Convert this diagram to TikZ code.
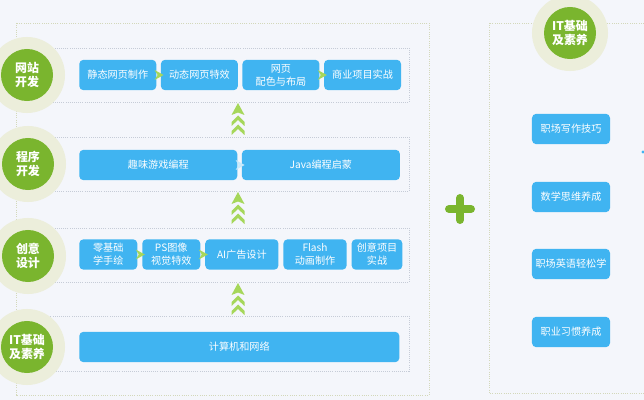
\documentclass[tikz,border=0pt]{standalone}
\usepackage{fontspec}
\setmainfont{Noto Sans CJK SC}
\usepackage{tikz}
\usetikzlibrary{calc}
\usetikzlibrary{positioning}

\definecolor{bgc}{HTML}{F4F6FB}
\definecolor{boxblue}{HTML}{40B4F1}
\definecolor{leafgreen}{HTML}{7AB52E}
\definecolor{halo}{HTML}{ECEEDB}
\definecolor{arrowgreen}{HTML}{A6D75A}
\definecolor{framegray}{HTML}{C6CCD7}
\definecolor{frameolive}{HTML}{D3D8BA}

\tikzset{
  box/.style={fill=boxblue, rounded corners=3pt, text=white, align=center, inner sep=0pt,
    minimum height=0.76cm, font=\fontsize{7.2}{9.2}\selectfont},
  badge/.style={circle, fill=leafgreen, text=white, align=center, inner sep=0pt,
    minimum size=1.3cm, font=\fontsize{8.5}{9.5}\selectfont\bfseries},
  rowframe/.style={framegray, densely dotted, line width=0.5pt},
  outerframe/.style={frameolive, densely dotted, line width=0.6pt}
}

\newcommand\stepmark[2][arrowgreen]{%
  \begin{scope}[shift={(#2)}]
    \fill[#1] (-4,-5)--(5,0)--(-4,5)--(-1,0)--cycle;
  \end{scope}}

\newcommand\climbarrow[2]{%
  \begin{scope}[shift={(#1,#2)}]
    \fill[arrowgreen] (0,0)--(6.5,12)--(0,9.5)--(-6.5,12)--cycle;
    \fill[arrowgreen] (0,12.5)--(6.5,19)--(6.5,23)--(0,17)--(-6.5,23)--(-6.5,19)--cycle;
    \fill[arrowgreen] (0,21.5)--(6.5,28)--(6.5,32)--(0,26)--(-6.5,32)--(-6.5,28)--cycle;
  \end{scope}}

\begin{document}
\begin{tikzpicture}[x=0.025cm,y=-0.025cm]

\useasboundingbox (0,0) rectangle (644,400);
\fill[bgc] (0,0) rectangle (644,400);
\clip (0,0) rectangle (644,400);

% frames
\draw[outerframe] (16,23) rectangle (429,395);
\draw[outerframe] (489,23) rectangle (660,393);

\draw[rowframe] (50,48) rectangle (409,102);
\draw[rowframe] (50,137) rectangle (409,191);
\draw[rowframe] (50,228) rectangle (409,282);
\draw[rowframe] (50,316) rectangle (409,371);

% row 1
\node[box, minimum width=1.925cm, anchor=west] (web1) at (79,75) {静态网页制作};
\node[box, minimum width=1.925cm, right=0.1cm of web1] (web2) {动态网页特效};
\node[box, minimum width=1.925cm, right=0.1cm of web2] (web3) {网页\\配色与布局};
\node[box, minimum width=1.925cm, right=0.1cm of web3] (web4) {商业项目实战};
\stepmark{$(web1.east)!0.5!(web2.west)$}
\stepmark{$(web3.east)!0.5!(web4.west)$}

% row 2
\node[box, minimum width=3.95cm, anchor=west] (prog1) at (79,165) {趣味游戏编程};
\node[box, minimum width=3.95cm, right=0.1cm of prog1] (prog2) {Java编程启蒙};
\stepmark[white!70!boxblue]{$(prog1.east)!0.5!(prog2.west)$}

% row 3
\node[box, minimum width=1.45cm, anchor=west] (art1) at (79,254.5) {零基础\\学手绘};
\node[box, minimum width=1.45cm, right=0.11cm of art1] (art2) {PS图像\\视觉特效};
\node[box, minimum width=1.83cm, right=0.11cm of art2] (art3) {AI广告设计};
\node[box, minimum width=1.58cm, right=0.11cm of art3] (art4) {Flash\\动画制作};
\node[box, minimum width=1.27cm, right=0.11cm of art4] (art5) {创意项目\\实战};
\stepmark{$(art1.east)!0.5!(art2.west)$}
\stepmark{$(art2.east)!0.5!(art3.west)$}

% row 4
\node[box, minimum width=8cm, anchor=west] (base1) at (79,347) {计算机和网络};

\climbarrow{238}{103}
\climbarrow{238}{192}
\climbarrow{238}{283}

% badges
\fill[halo] (27,75) circle (0.95cm);
\fill[halo] (28,164) circle (0.95cm);
\fill[halo] (28,256) circle (0.95cm);
\fill[halo] (27,347) circle (0.95cm);
\fill[halo] (570,33) circle (0.95cm);
\node[badge] (webdev) at (27,75) {网站\\开发};
\node[badge] (progdev) at (28,164) {程序\\开发};
\node[badge] (artdesign) at (28,256) {创意\\设计};
\node[badge] (itbase) at (27,347) {IT基础\\及素养};
\node[badge] (itskill) at (570,33) {IT基础\\及素养};

% plus
\draw[leafgreen, line width=0.2cm, line cap=round] (449,209)--(471,209);
\draw[leafgreen, line width=0.2cm, line cap=round] (460,198)--(460,220);

% right column
\node[box, minimum width=1.95cm] (soft1) at (571,129) {职场写作技巧};
\node[box, minimum width=1.95cm] (soft2) at (571,197) {数学思维养成};
\node[box, minimum width=1.95cm] (soft3) at (571,264) {职场英语轻松学};
\node[box, minimum width=1.95cm] (soft4) at (571,332) {职业习惯养成};
\fill[boxblue] (643,152) circle (0.04cm);

\end{tikzpicture}
\end{document}
